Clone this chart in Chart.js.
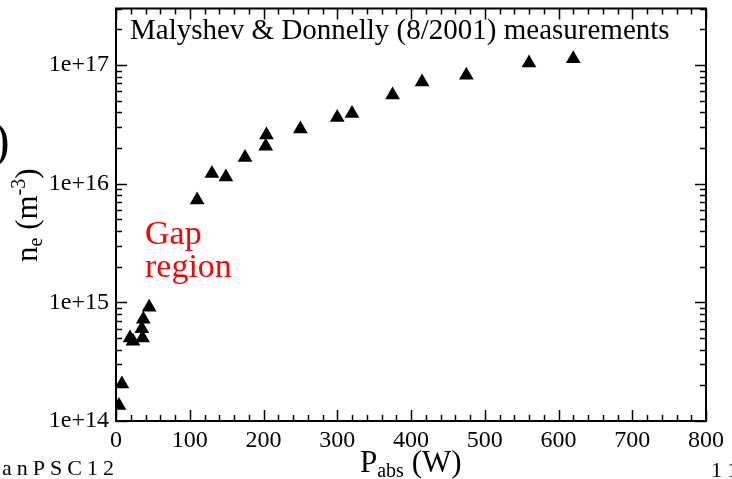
<!DOCTYPE html>
<html>
<head>
<meta charset="utf-8">
<script src="https://cdn.jsdelivr.net/npm/chart.js@4.4.1/dist/chart.umd.min.js"></script>
<style>
  html, body { margin: 0; padding: 0; background: #fff; }
  #wrap { width: 732px; height: 479px; position: relative; }
</style>
</head>
<body>
<div id="wrap"><canvas id="neChart" width="732" height="479"></canvas></div>
<script>
// Malyshev & Donnelly (8/2001) - electron density vs absorbed power
const powerW = [4, 8, 19, 23, 36, 35, 37, 45,
                110, 130, 149, 175, 203, 204, 250, 300, 320, 375, 415, 475, 560, 620];
const densityM3 = [1.35e14, 2.05e14, 5.0e14, 4.7e14, 5.0e14, 6.0e14, 7.2e14, 9.1e14,
                   7.3e15, 1.22e16, 1.14e16, 1.66e16, 2.07e16, 2.57e16, 2.9e16, 3.62e16, 3.9e16,
                   5.6e16, 7.2e16, 8.2e16, 1.04e17, 1.13e17];
const xTicks = [0, 100, 200, 300, 400, 500, 600, 700, 800];
const yDecades = [1e14, 1e15, 1e16, 1e17];

const serif = '"Liberation Serif", "Times New Roman", serif';
const points = powerW.map((p, i) => ({ x: p, y: densityM3[i] }));

// tick marks on all four sides, pointing inward
const frameTicks = {
  id: 'frameTicks',
  afterDraw(chart) {
    const c = chart.ctx, a = chart.chartArea;
    const xs = chart.scales.x, ys = chart.scales.y;
    c.save();
    c.strokeStyle = '#000';
    c.lineWidth = 1.5;
    c.beginPath();
    for (let v = xs.min; v <= xs.max; v += 20) {
      const px = Math.round(xs.getPixelForValue(v)) + 0.5;
      const len = v % 100 === 0 ? 11 : 6;
      c.moveTo(px, a.bottom); c.lineTo(px, a.bottom - len);
      c.moveTo(px, a.top); c.lineTo(px, a.top + len);
    }
    for (let e = 14; e <= 17; e++) {
      for (let m = 1; m <= 9; m++) {
        const v = m * Math.pow(10, e);
        if (v > ys.max) break;
        const py = Math.round(ys.getPixelForValue(v)) + 0.5;
        const len = m === 1 ? 11 : 6;
        c.moveTo(a.left, py); c.lineTo(a.left + len, py);
        c.moveTo(a.right, py); c.lineTo(a.right - len, py);
      }
    }
    c.stroke();
    c.restore();
  }
};

// annotation text, axis titles and slide leftovers
const labels = {
  id: 'labels',
  afterDraw(chart) {
    const c = chart.ctx;
    c.save();
    c.fillStyle = '#000';
    c.textBaseline = 'alphabetic';
    c.textAlign = 'left';

    c.font = '29px ' + serif;
    c.fillText('Malyshev & Donnelly (8/2001) measurements', 130, 39);

    c.fillStyle = '#ff0000';
    c.font = '34px ' + serif;
    c.fillText('Gap', 145, 244);
    c.fillText('region', 145, 277);

    // x title: P_abs (W)
    c.fillStyle = '#000';
    let x = 360;
    c.font = '31px ' + serif;
    c.fillText('P', x, 472); x += c.measureText('P').width;
    c.font = '20px ' + serif;
    c.fillText('abs', x, 477); x += c.measureText('abs').width;
    c.font = '31px ' + serif;
    c.fillText(' (W)', x, 472);

    // y title: n_e (m^-3), rotated
    c.save();
    c.translate(37, 262);
    c.rotate(-Math.PI / 2);
    x = 0;
    c.font = '31px ' + serif;
    c.fillText('n', x, 0); x += c.measureText('n').width;
    c.font = '20px ' + serif;
    c.fillText('e', x, 5); x += c.measureText('e').width;
    c.font = '31px ' + serif;
    c.fillText(' (m', x, 0); x += c.measureText(' (m').width;
    c.font = '20px ' + serif;
    c.fillText('-3', x, -12); x += c.measureText('-3').width;
    c.font = '31px ' + serif;
    c.fillText(')', x, 0);
    c.restore();

    // cropped bits of the slide around the figure
    c.font = '50px ' + serif;
    c.fillText(')', -7, 157);
    c.font = '22px ' + serif;
    x = 2;
    for (const ch of 'anPSC12') {
      c.fillText(ch, x, 475);
      x += c.measureText(ch).width + 5;
    }
    c.fillText('1', 711, 477);
    c.fillText('1', 727, 477);
    c.restore();
  }
};

new Chart(document.getElementById('neChart'), {
  type: 'scatter',
  data: {
    datasets: [{
      label: 'Malyshev & Donnelly',
      data: points,
      pointStyle: 'triangle',
      pointRadius: 8.5,
      pointHoverRadius: 8.5,
      backgroundColor: '#000',
      borderColor: '#000',
      borderWidth: 0
    }]
  },
  options: {
    responsive: false,
    animation: false,
    devicePixelRatio: 1,
    layout: { padding: { left: 0, top: 8, right: 26, bottom: 0 } },
    plugins: {
      legend: { display: false },
      tooltip: { enabled: false },
      title: { display: false }
    },
    scales: {
      x: {
        type: 'linear',
        min: 0,
        max: 800,
        afterBuildTicks: s => { s.ticks = xTicks.map(v => ({ value: v })); },
        afterFit: s => { s.height = 58; s.paddingLeft = 0; s.paddingRight = 0; },
        grid: { display: false, drawTicks: false },
        border: { display: true, color: '#000', width: 2 },
        ticks: {
          color: '#000',
          padding: 5,
          maxRotation: 0,
          font: { family: serif, size: 24 },
          callback: v => String(v)
        }
      },
      y: {
        type: 'logarithmic',
        min: 1e14,
        max: 3e17,
        afterBuildTicks: s => { s.ticks = yDecades.map(v => ({ value: v })); },
        afterFit: s => { s.width = 116; s.paddingTop = 0; s.paddingBottom = 0; },
        grid: { display: false, drawTicks: false },
        border: { display: true, color: '#000', width: 2 },
        ticks: {
          color: '#000',
          padding: 7,
          font: { family: serif, size: 24 },
          callback: v => '1e+' + Math.round(Math.log10(v))
        }
      }
    }
  },
  plugins: [frameTicks, labels, {
    id: 'frameBox',
    afterDraw(chart) {
      const c = chart.ctx, a = chart.chartArea;
      c.save();
      c.strokeStyle = '#000';
      c.lineWidth = 2;
      c.strokeRect(a.left, a.top, a.right - a.left, a.bottom - a.top);
      c.restore();
    }
  }]
});
</script>
</body>
</html>
